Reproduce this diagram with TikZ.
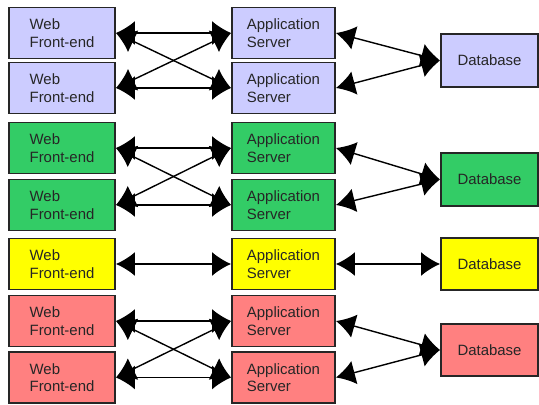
\documentclass[tikz,border=0pt]{standalone}
\usepackage{fontspec}
\setmainfont{Liberation Sans}
\usetikzlibrary{arrows.meta}
\definecolor{lavender}{RGB}{204,204,255}
\definecolor{tiergreen}{RGB}{51,204,102}
\definecolor{tieryellow}{RGB}{255,255,0}
\definecolor{tierred}{RGB}{255,128,128}
\begin{document}
\begin{tikzpicture}[x=0.02cm, y=-0.02cm,
    box/.style={draw=black!85, line width=1.1pt, align=left, inner sep=0pt,
        font=\fontsize{8.5}{10}\selectfont, text=black!85},
    web/.style={box, minimum width=2.12cm, minimum height=1.02cm},
    app/.style={box, minimum width=2.06cm, minimum height=1.02cm},
    db/.style={box, minimum width=1.94cm, minimum height=1.05cm},
    link/.style={line width=0.8pt, {Latex[length=0.38cm,width=0.48cm]}-{Latex[length=0.38cm,width=0.48cm]}}]
    \useasboundingbox (0,0) rectangle (539,405);

    % Draw the web front-ends
    \node[web, fill=lavender] (web1) at (62,33) {Web\\Front-end};
    \node[web, fill=lavender] (web2) at (62,88) {Web\\Front-end};
    \node[web, fill=tiergreen] (web3) at (62,148) {Web\\Front-end};
    \node[web, fill=tiergreen] (web4) at (62,205) {Web\\Front-end};
    \node[web, fill=tieryellow] (web5) at (62,264) {Web\\Front-end};
    \node[web, fill=tierred] (web6) at (62,321) {Web\\Front-end};
    \node[web, fill=tierred] (web7) at (62,377.5) {Web\\Front-end};

    % Draw the application servers
    \node[app, fill=lavender] (app1) at (283.5,33) {Application\\Server};
    \node[app, fill=lavender] (app2) at (283.5,88) {Application\\Server};
    \node[app, fill=tiergreen] (app3) at (283.5,148) {Application\\Server};
    \node[app, fill=tiergreen] (app4) at (283.5,205) {Application\\Server};
    \node[app, fill=tieryellow] (app5) at (283.5,264) {Application\\Server};
    \node[app, fill=tierred] (app6) at (283.5,321) {Application\\Server};
    \node[app, fill=tierred] (app7) at (283.5,377.5) {Application\\Server};

    % Draw the databases
    \node[db, fill=lavender] (db1) at (489.5,60.5) {Database};
    \node[db, fill=tiergreen] (db2) at (489.5,179.5) {Database};
    \node[db, fill=tieryellow] (db3) at (489.5,264) {Database};
    \node[db, fill=tierred] (db4) at (489.5,350) {Database};

    % Connect front-ends to servers
    \foreach \a/\b in {1/2, 3/4, 6/7} {
        \draw[link] (web\a.east) -- (app\a.west);
        \draw[link] (web\a.east) -- (app\b.west);
        \draw[link] (web\b.east) -- (app\a.west);
        \draw[link] (web\b.east) -- (app\b.west);
    }
    \draw[link] (web5.east) -- (app5.west);

    % Connect servers to databases
    \draw[link] (app1.east) -- (db1.west);
    \draw[link] (app2.east) -- (db1.west);
    \draw[link] (app3.east) -- (db2.west);
    \draw[link] (app4.east) -- (db2.west);
    \draw[link] (app5.east) -- (db3.west);
    \draw[link] (app6.east) -- (db4.west);
    \draw[link] (app7.east) -- (db4.west);
\end{tikzpicture}
\end{document}
